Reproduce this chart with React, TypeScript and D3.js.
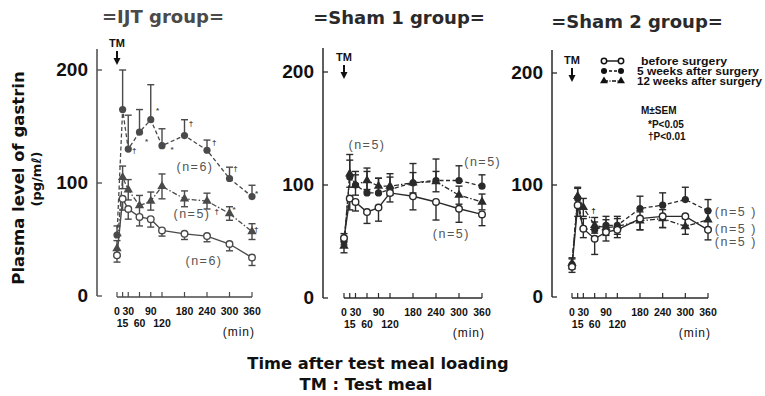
import * as d3 from "d3";

// time points (min) after the test meal
const times = [0, 15, 30, 60, 90, 120, 180, 240, 300, 360];
const tickRow1 = [0, 30, 90, 180, 240, 300, 360];
const tickRow2 = [15, 60, 120];
const yTicks = [0, 100, 200];

// IJT group
const ijtBefore = [36, 86, 77, 70, 68, 58, 55, 53, 46, 34];
const ijtBeforeSem = [6, 10, 9, 8, 7, 5, 5, 5, 6, 7];
const ijtW5 = [54, 165, 130, 145, 156, 133, 142, 129, 104, 88];
const ijtW5Sem = [8, 35, 30, 20, 31, 15, 14, 9, 10, 10];
const ijtW12 = [42, 105, 94, 80, 84, 97, 86, 84, 73, 57];
const ijtW12Sem = [7, 10, 9, 9, 8, 11, 7, 7, 6, 7];

// Sham 1 group
const sh1Before = [53, 88, 85, 76, 80, 93, 90, 85, 79, 74];
const sh1BeforeSem = [6, 10, 8, 10, 12, 8, 12, 16, 12, 10];
const sh1W5 = [50, 107, 100, 93, 93, 96, 102, 104, 104, 99];
const sh1W5Sem = [7, 20, 12, 22, 13, 14, 17, 19, 13, 10];
const sh1W12 = [46, 110, 100, 104, 99, 99, 102, 103, 91, 85];
const sh1W12Sem = [6, 12, 9, 8, 7, 8, 9, 9, 8, 7];

// Sham 2 group
const sh2Before = [27, 82, 61, 52, 58, 60, 70, 72, 72, 60];
const sh2BeforeSem = [5, 10, 8, 14, 8, 7, 10, 10, 8, 9];
const sh2W5 = [29, 88, 61, 60, 64, 64, 79, 82, 87, 77];
const sh2W5Sem = [5, 9, 9, 7, 8, 8, 11, 11, 11, 10];
const sh2W12 = [30, 90, 80, 64, 62, 63, 68, 70, 63, 69];
const sh2W12Sem = [5, 8, 8, 7, 7, 7, 8, 8, 7, 8];

// n labels: [time, value, text]
const ijtNotes: [number, number, string][] = [
  [208, 114, "(n=6)"],
  [200, 73, "(n=5)"],
  [232, 31, "(n=6)"],
];
const sh1Notes: [number, number, string][] = [
  [60, 135, "(n=5)"],
  [362, 120, "(n=5)"],
  [280, 57, "(n=5)"],
];
const sh2Notes: [number, number, string][] = [
  [378, 76, "(n=5 )"],
  [378, 61, "(n=5 )"],
  [378, 49, "(n=5 )"],
];

// significance marks: [time, value, symbol]
const ijtSig: [number, number, string][] = [
  [8, 53, "*"], [46, 129, "†"], [79, 137, "*"], [108, 165, "*"], [147, 130, "*"],
  [197, 153, "†"], [259, 136, "†"], [316, 113, "†"], [372, 91, "*"],
  [266, 75, "†"], [312, 77, "*"], [371, 59, "†"],
];
const sh1Sig: [number, number, string][] = [];
const sh2Sig: [number, number, string][] = [[57, 78, "†"]];

const legendLabels = ["before surgery", "5 weeks after surgery", "12 weeks after surgery"];

const panels = [
  {
    title: "=IJT group=", titleX: 163, titleY: 23, color: "#4a4a4a", noteAnchor: "middle",
    axisX: 97, axisTop: 49, yb: 296, yt: 70, xl: 117, xr: 252, xAxisY: 297,
    before: ijtBefore, beforeSem: ijtBeforeSem, w5: ijtW5, w5Sem: ijtW5Sem, w12: ijtW12, w12Sem: ijtW12Sem,
    notes: ijtNotes, sig: ijtSig, tmY: 47,
  },
  {
    title: "=Sham 1 group=", titleX: 399, titleY: 24, color: "#2a2a2a", noteAnchor: "middle",
    axisX: 323, axisTop: 48, yb: 298, yt: 72, xl: 344, xr: 482, xAxisY: 298,
    before: sh1Before, beforeSem: sh1BeforeSem, w5: sh1W5, w5Sem: sh1W5Sem, w12: sh1W12, w12Sem: sh1W12Sem,
    notes: sh1Notes, sig: sh1Sig, tmY: 61,
  },
  {
    title: "=Sham 2 group=", titleX: 637, titleY: 28, color: "#2a2a2a", noteAnchor: "start",
    axisX: 552, axisTop: 50, yb: 297, yt: 73, xl: 572, xr: 708, xAxisY: 298,
    before: sh2Before, beforeSem: sh2BeforeSem, w5: sh2W5, w5Sem: sh2W5Sem, w12: sh2W12, w12Sem: sh2W12Sem,
    notes: sh2Notes, sig: sh2Sig, tmY: 64,
  },
];

const SANS = "'Liberation Sans', Arial, sans-serif";
const WIDE = "'DejaVu Sans', Verdana, sans-serif";
const triangle = d3.symbol().type(d3.symbolTriangle).size(38)();

function Panel({ p }: { p: (typeof panels)[number] }) {
  const x = d3.scaleLinear().domain([0, 360]).range([p.xl, p.xr]);
  const y = d3.scaleLinear().domain([0, 200]).range([p.yb, p.yt]);
  const line = d3
    .line<number>()
    .x((_, i) => x(times[i]))
    .y((d) => y(d));
  const c = p.color;

  // dir: 1 = up, -1 = down, 0 = both
  const bars = (vals: number[], sem: number[], dir: number, key: string) =>
    vals.map((v, i) => {
      const top = dir >= 0 ? y(v + sem[i]) : y(v);
      const bot = dir <= 0 ? y(v - sem[i]) : y(v);
      const xi = x(times[i]);
      return (
        <g key={key + i} stroke={c} strokeWidth={1.4}>
          <line x1={xi} x2={xi} y1={top} y2={bot} />
          {dir >= 0 && <line x1={xi - 3.5} x2={xi + 3.5} y1={top} y2={top} />}
          {dir <= 0 && <line x1={xi - 3.5} x2={xi + 3.5} y1={bot} y2={bot} />}
        </g>
      );
    });

  return (
    <g>
      <text x={p.titleX} y={p.titleY} textAnchor="middle" fontFamily={WIDE} fontWeight="bold" fontSize={18} fill={c}>
        {p.title}
      </text>

      {/* y axis */}
      <line x1={p.axisX} x2={p.axisX} y1={p.axisTop} y2={y(0)} stroke={c} strokeWidth={1.5} />
      {yTicks.map((t) => (
        <g key={t}>
          <line x1={p.axisX} x2={p.axisX + 5} y1={y(t)} y2={y(t)} stroke={c} strokeWidth={1.3} />
          <text
            x={p.axisX - 9}
            y={y(t) + 6}
            textAnchor="end"
            fontFamily={SANS}
            fontWeight="bold"
            fontSize={19}
            fill="#111"
          >
            {t}
          </text>
        </g>
      ))}

      {/* x axis */}
      <line x1={x(0)} x2={x(360)} y1={p.xAxisY} y2={p.xAxisY} stroke={c} strokeWidth={1.4} />
      {times.map((t) => (
        <line key={t} x1={x(t)} x2={x(t)} y1={p.xAxisY} y2={p.xAxisY - 5} stroke={c} strokeWidth={1.2} />
      ))}
      {tickRow1.map((t) => (
        <text key={t} x={x(t)} y={p.xAxisY + 18} textAnchor="middle" fontFamily={SANS} fontWeight="bold" fontSize={10.5} fill="#111">
          {t}
        </text>
      ))}
      {tickRow2.map((t) => (
        <text key={t} x={x(t)} y={p.xAxisY + 30} textAnchor="middle" fontFamily={SANS} fontWeight="bold" fontSize={10.5} fill="#111">
          {t}
        </text>
      ))}
      <text x={x(360) + 3} y={p.xAxisY + 39} textAnchor="end" fontFamily={SANS} fontSize={12} letterSpacing={1} fill="#111">
        (min)
      </text>

      {/* test meal arrow */}
      <text x={x(0)} y={p.tmY} textAnchor="middle" fontFamily={SANS} fontWeight="bold" fontSize={11} fill="#111">
        TM
      </text>
      <line x1={x(0)} x2={x(0)} y1={p.tmY + 4} y2={p.tmY + 14} stroke="#111" strokeWidth={2} />
      <path
        d={`M${x(0) - 3.5},${p.tmY + 11}L${x(0) + 3.5},${p.tmY + 11}L${x(0)},${p.tmY + 18}Z`}
        fill="#111"
      />

      {/* lines */}
      <path d={line(p.w12) ?? ""} fill="none" stroke={c} strokeWidth={1.3} strokeDasharray="5,2,1.5,2" />
      <path d={line(p.w5) ?? ""} fill="none" stroke={c} strokeWidth={1.3} strokeDasharray="4,2.5" />
      <path d={line(p.before) ?? ""} fill="none" stroke={c} strokeWidth={1.4} />

      {bars(p.w12, p.w12Sem, 0, "t")}
      {bars(p.w5, p.w5Sem, 1, "f")}
      {bars(p.before, p.beforeSem, -1, "o")}

      {p.w12.map((v, i) => (
        <path key={"tm" + i} d={triangle ?? ""} transform={`translate(${x(times[i])},${y(v)})`} fill={c} />
      ))}
      {p.w5.map((v, i) => (
        <circle key={"fm" + i} cx={x(times[i])} cy={y(v)} r={3.6} fill={c} />
      ))}
      {p.before.map((v, i) => (
        <circle key={"om" + i} cx={x(times[i])} cy={y(v)} r={3.3} fill="#fff" stroke={c} strokeWidth={1.4} />
      ))}

      {p.notes.map(([t, v, s], i) => (
        <text
          key={"n" + i}
          x={x(t)}
          y={y(v) + 4}
          textAnchor={p.noteAnchor}
          fontFamily={SANS}
          fontSize={12.5}
          letterSpacing={1.5}
          fill="#555"
        >
          {s}
        </text>
      ))}
      {p.sig.map(([t, v, s], i) => (
        <text key={"s" + i} x={x(t)} y={y(v) + 3} textAnchor="middle" fontFamily={SANS} fontWeight="bold" fontSize={8} fill={c}>
          {s}
        </text>
      ))}
    </g>
  );
}

function Legend() {
  const lx = 604;
  const rx = 621;
  const kinds = ["open", "filled", "tri"];
  const rowY = [61, 71, 81];
  const textX = [641, 637, 637];
  const textW = [86, 122, 125];
  return (
    <g fontFamily={SANS} fontWeight="bold" fontSize={10} fill="#111">
      {legendLabels.map((label, k) => {
        const kind = kinds[k];
        const ry = rowY[k];
        return (
          <g key={label}>
            <line
              x1={lx}
              x2={rx}
              y1={ry}
              y2={ry}
              stroke="#111"
              strokeWidth={1.4}
              strokeDasharray={kind === "open" ? undefined : kind === "filled" ? "3,2" : "4,1.5,1,1.5"}
            />
            {[lx, rx].map((cx) =>
              kind === "open" ? (
                <circle key={cx} cx={cx} cy={ry} r={2.7} fill="#fff" stroke="#111" strokeWidth={1.5} />
              ) : kind === "filled" ? (
                <circle key={cx} cx={cx} cy={ry} r={3} fill="#111" />
              ) : (
                <path key={cx} d={triangle ?? ""} transform={`translate(${cx},${ry}) scale(0.85)`} fill="#111" />
              )
            )}
            <text x={textX[k]} y={ry + 3.5} textLength={textW[k]} lengthAdjust="spacingAndGlyphs">
              {label}
            </text>
          </g>
        );
      })}
      <text x={641} y={114}>M±SEM</text>
      <text x={648} y={128}>*P&lt;0.05</text>
      <text x={648} y={140}>†P&lt;0.01</text>
    </g>
  );
}

export default function App() {
  return (
    <svg width={765} height={396} style={{ position: "absolute", left: 0, top: 0, background: "#fff" }}>
      <rect width={765} height={396} fill="#fff" />
      <text
        transform="translate(24,178) rotate(-90)"
        textAnchor="middle"
        fontFamily={WIDE}
        fontWeight="bold"
        fontSize={16.5}
        fill="#111"
      >
        Plasma level of gastrin
      </text>
      <text
        transform="translate(41,179) rotate(-90)"
        textAnchor="middle"
        fontFamily={WIDE}
        fontWeight="bold"
        fontSize={13}
        fill="#111"
      >
        (pg/mℓ)
      </text>
      {panels.map((p) => (
        <Panel key={p.title} p={p} />
      ))}
      <Legend />
      <text x={378} y={369} textAnchor="middle" fontFamily={WIDE} fontWeight="bold" fontSize={16.3} fill="#111">
        Time after test meal loading
      </text>
      <text x={366} y={390} textAnchor="middle" fontFamily={WIDE} fontWeight="bold" fontSize={16.3} fill="#111">
        TM : Test meal
      </text>
    </svg>
  );
}
